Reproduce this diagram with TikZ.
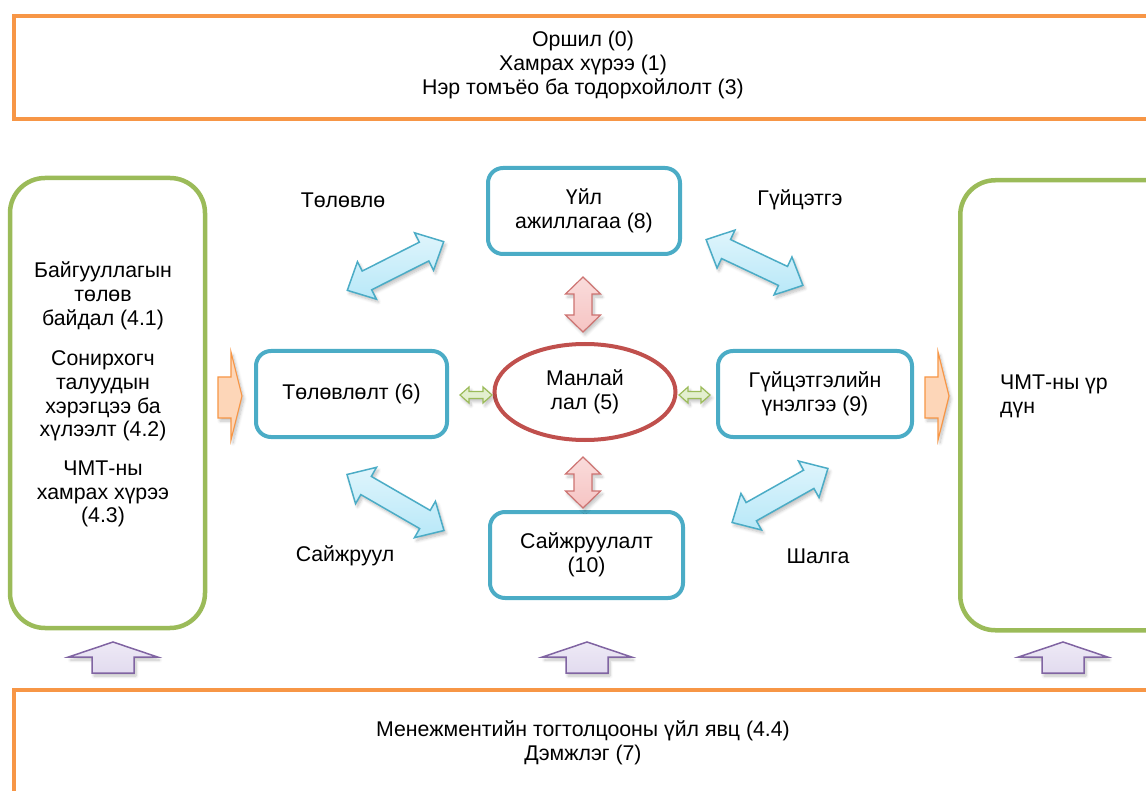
\documentclass[tikz,border=0pt]{standalone}
\usepackage{fontspec}
\setmainfont{Liberation Sans}
\usetikzlibrary{shapes.geometric,shadows.blur}
\definecolor{orangeB}{HTML}{F79646}
\definecolor{greenB}{HTML}{9BBB59}
\definecolor{blueB}{HTML}{4BACC6}
\definecolor{redB}{HTML}{C0504D}
\definecolor{purpleB}{HTML}{8064A2}
\definecolor{blueF}{HTML}{B8E8F8}
\definecolor{redF}{HTML}{F6C4C3}
\definecolor{greenF}{HTML}{E3EFCF}
\definecolor{orangeF}{HTML}{FDD6B8}
\definecolor{purpleF}{HTML}{E2DBEF}
% #1 style, #2 cx, #3 cy, #4 angle, #5 half length, #6 head length, #7 half shaft, #8 half head
\newcommand{\DArrow}[8]{%
  \path[#1, shift={(#2,#3)}, rotate=#4]
    (-#5,0) -- (-#5+#6,#8) -- (-#5+#6,#7) -- (#5-#6,#7) -- (#5-#6,#8) -- (#5,0)
    -- (#5-#6,-#8) -- (#5-#6,-#7) -- (-#5+#6,-#7) -- (-#5+#6,-#8) -- cycle;}
\tikzset{
  txt/.style={font=\fontsize{21.3}{23.8}\selectfont, align=center, inner sep=0pt},
  orangebox/.style={draw=orangeB, line width=4pt, rectangle, inner sep=0pt},
  greenbox/.style={draw=greenB, line width=4.5pt, rectangle, rounded corners=35pt, inner sep=0pt},
  bluebox/.style={draw=blueB, line width=4pt, rectangle, rounded corners=15pt, inner sep=0pt,
    minimum height=86pt, font=\fontsize{21.3}{23.8}\selectfont, align=center},
  redell/.style={draw=redB, line width=4pt, ellipse, inner sep=0pt,
    font=\fontsize{21.3}{23.8}\selectfont, align=center},
  shad/.style={blur shadow={shadow xshift=2pt, shadow yshift=-3pt, shadow blur steps=6, shadow opacity=25, shadow blur radius=3pt}},
  bluearrow/.style={shad, draw=blueB, line width=1.5pt, top color=blueF!45, bottom color=blueF, line join=miter},
  redarrow/.style={shad, draw=redB!80, line width=1.2pt, top color=redF!60, bottom color=redF, line join=miter},
  greenarrow/.style={shad, draw=greenB, line width=1.2pt, fill=greenF, line join=miter},
  orangearrow/.style={shad, draw=orangeB, line width=1.2pt, fill=orangeF, line join=miter},
  purplearrow/.style={shad, draw=purpleB, line width=1.5pt, top color=purpleF!60, bottom color=purpleF, line join=miter},
}
\begin{document}
\begin{tikzpicture}[x=1pt,y=-1pt]
\useasboundingbox (0,0) rectangle (1146,791);
\clip (0,0) rectangle (1146,791);

% big frames
\node[orangebox, anchor=north west, minimum width=1160pt, minimum height=103pt] (topbox) at (12,14) {};
\node[txt] (toptext) at (583,65) {Оршил (0)\\Хамрах хүрээ (1)\\Нэр томъёо ба тодорхойлолт (3)};

\node[orangebox, anchor=north west, minimum width=1160pt, minimum height=130pt] (botbox) at (12,688) {};
\node[txt] (bottext) at (583,743) {Менежментийн тогтолцооны үйл явц (4.4)\\Дэмжлэг (7)};

\node[greenbox, minimum width=195pt, minimum height=450pt] (leftbox) at (107.5,403) {};
\node[greenbox, anchor=north west, minimum width=260pt, minimum height=450pt] (rightbox) at (958,178) {};

\node[txt] (l1) at (103,296) {Байгууллагын\\төлөв\\байдал (4.1)};
\node[txt] (l2) at (103,396) {Сонирхогч\\талуудын\\хэрэгцээ ба\\хүлээлт (4.2)};
\node[txt] (l3) at (103,494) {ЧМТ-ны\\хамрах хүрээ\\(4.3)};
\node[txt, align=left, anchor=west] (r1) at (1000,396) {ЧМТ-ны үр\\дүн};

% PDCA boxes
\node[bluebox, minimum width=192pt] (act) at (584,211) {Үйл\\ажиллагаа (8)};
\node[bluebox, minimum width=191pt] (plan) at (351.5,394) {Төлөвлөлт (6)};
\node[bluebox, minimum width=194pt] (eval) at (815,394) {Гүйцэтгэлийн\\үнэлгээ (9)};
\node[bluebox, minimum width=193pt] (impr) at (586.5,555) {Сайжруулалт\\(10)};
\node[redell, minimum width=181pt, minimum height=96pt] (lead) at (585,392) {Манлай\\лал (5)};

% labels
\node[txt] (lbplan) at (343,200) {Төлөвлө};
\node[txt] (lbdo) at (800,200) {Гүйцэтгэ};
\node[txt] (lbimp) at (345,556) {Сайжруул};
\node[txt] (lbchk) at (818,556) {Шалга};

% blue diagonal double arrows
\DArrow{bluearrow}{395.5}{266}{26.8}{54}{22}{10.5}{21}
\DArrow{bluearrow}{754.5}{262.5}{-25.3}{53.5}{22}{10.5}{21}
\DArrow{bluearrow}{395.5}{502.5}{-30}{56}{22}{10.5}{21}
\DArrow{bluearrow}{780}{495.5}{29.4}{55}{22}{10.5}{21}

% red vertical double arrows
\DArrow{redarrow}{583}{304.5}{90}{27.5}{17}{9}{17.5}
\DArrow{redarrow}{583}{482.5}{90}{25.5}{17}{9}{17.5}

% green small double arrows
\DArrow{greenarrow}{476}{395}{0}{16}{9}{3.5}{8}
\DArrow{greenarrow}{694.5}{395}{0}{15.5}{9}{3.5}{8}

% orange right arrows
\path[orangearrow] (218,377) -- (231,377) -- (231,352) -- (242,396) -- (231,440) -- (231,418) -- (218,418) -- cycle;
\path[orangearrow] (925,377) -- (938,377) -- (938,352) -- (949,396) -- (938,440) -- (938,418) -- (925,418) -- cycle;

% purple up arrows
\foreach \cx in {113,587,1063}{
  \path[purplearrow] (\cx,642) -- (\cx+44.5,657) -- (\cx+21,657) -- (\cx+21,673)
    -- (\cx-21,673) -- (\cx-21,657) -- (\cx-44.5,657) -- cycle;
}
\end{tikzpicture}
\end{document}
